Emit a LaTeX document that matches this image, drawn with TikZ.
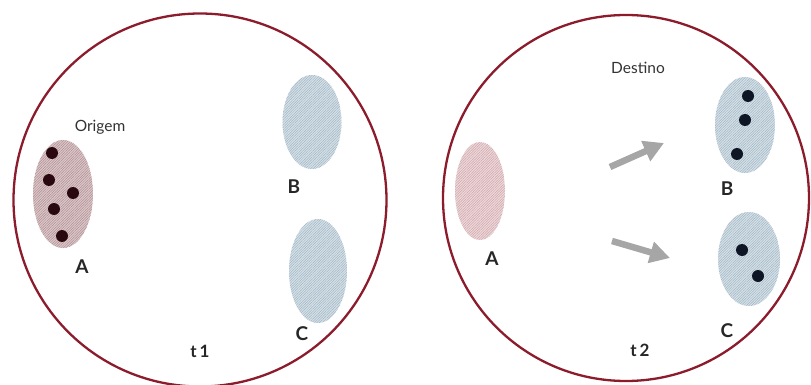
\documentclass[tikz,border=0pt]{standalone}
\usepackage{fontspec}
\setmainfont{Lato}
\usetikzlibrary{shapes.geometric,patterns.meta,arrows.meta}
\definecolor{ring}{HTML}{8C1C2C}
\definecolor{pinkfill}{HTML}{DCC8CA}
\definecolor{pinkline}{HTML}{B08E92}
\definecolor{pinkfillB}{HTML}{EDD8DA}
\definecolor{pinklineB}{HTML}{CFA8AC}
\definecolor{bluefill}{HTML}{D6E1E8}
\definecolor{blueline}{HTML}{A2B6C4}
\definecolor{dotred}{HTML}{2A0810}
\definecolor{dotblue}{HTML}{0E1626}
\definecolor{arrowgray}{HTML}{A6A6A6}
\tikzset{
  ringstyle/.style={draw=ring, line width=2.3pt},
  blob/.style={ellipse, inner sep=0pt, draw=none},
  hatch/.style={pattern={Lines[angle=45,distance=1.8pt,line width=0.5pt]}},
  pinkblob/.style={blob, preaction={fill=pinkfill}, hatch, pattern color=pinkline},
  pinkblobB/.style={blob, preaction={fill=pinkfillB}, hatch, pattern color=pinklineB},
  blueblob/.style={blob, preaction={fill=bluefill}, hatch, pattern color=blueline},
  dotR/.style={circle, fill=dotred, inner sep=0pt, minimum size=12pt},
  dotB/.style={circle, fill=dotblue, inner sep=0pt, minimum size=12pt},
  lbl/.style={font=\fontsize{19}{19}\selectfont\bfseries, text=black!85},
  small/.style={font=\fontsize{15.5}{16}\selectfont, text=black!80},
  tlbl/.style={font=\fontsize{17}{17}\selectfont\bfseries, text=black!85},
  movearrow/.style={draw=arrowgray, line width=6.5pt, -{Triangle[width=21pt,length=20pt]}}
}
\begin{document}
\begin{tikzpicture}[x=1pt,y=-1pt]
\useasboundingbox (0,0) rectangle (811,385);
% circles
\node[circle, ringstyle, minimum size=373pt, inner sep=0pt] (c1) at (200,200) {};
\node[circle, ringstyle, minimum size=366pt, inner sep=0pt] (c2) at (626,198) {};
% t1
\node[pinkblob, minimum width=60pt, minimum height=108pt] (a1) at (63,194) {};
\node[dotR] (a1d1) at (52,153) {};
\node[dotR] (a1d2) at (49,180) {};
\node[dotR] (a1d3) at (73,193) {};
\node[dotR] (a1d4) at (54,209) {};
\node[dotR] (a1d5) at (62,236) {};
\node[small] (orig) at (100,127) {Origem};
\node[lbl] (la1) at (82,267) {A};
\node[blueblob, minimum width=59pt, minimum height=94pt] (b1) at (312,122) {};
\node[lbl] (lb1) at (294,187) {B};
\node[blueblob, minimum width=58pt, minimum height=104pt] (cc1) at (318,271) {};
\node[lbl] (lc1) at (302,334) {C};
\node[tlbl] (t1) at (200,351) {t\,1};
% t2
\node[pinkblobB, minimum width=50pt, minimum height=98pt] (a2) at (480,191) {};
\node[lbl] (la2) at (492,259) {A};
\node[small] (dest) at (638,68) {Destino};
\node[blueblob, minimum width=60pt, minimum height=96pt] (b2) at (745,125) {};
\node[dotB] (b2d1) at (748,96) {};
\node[dotB] (b2d2) at (745,120) {};
\node[dotB] (b2d3) at (737,154) {};
\node[lbl] (lb2) at (727,189) {B};
\node[blueblob, minimum width=62pt, minimum height=94pt] (cc2) at (749,259) {};
\node[dotB] (c2d1) at (742,250) {};
\node[dotB] (c2d2) at (758,276) {};
\node[lbl] (lc2) at (727,331) {C};
\node[tlbl] (t2) at (640,350) {t\,2};
% arrows
\coordinate (u0) at (610,167);
\coordinate (u1) at (664,143);
\coordinate (l0) at (612,241);
\coordinate (l1) at (670,258);
\draw[movearrow] (u0) -- (u1);
\draw[movearrow] (l0) -- (l1);
\end{tikzpicture}
\end{document}
